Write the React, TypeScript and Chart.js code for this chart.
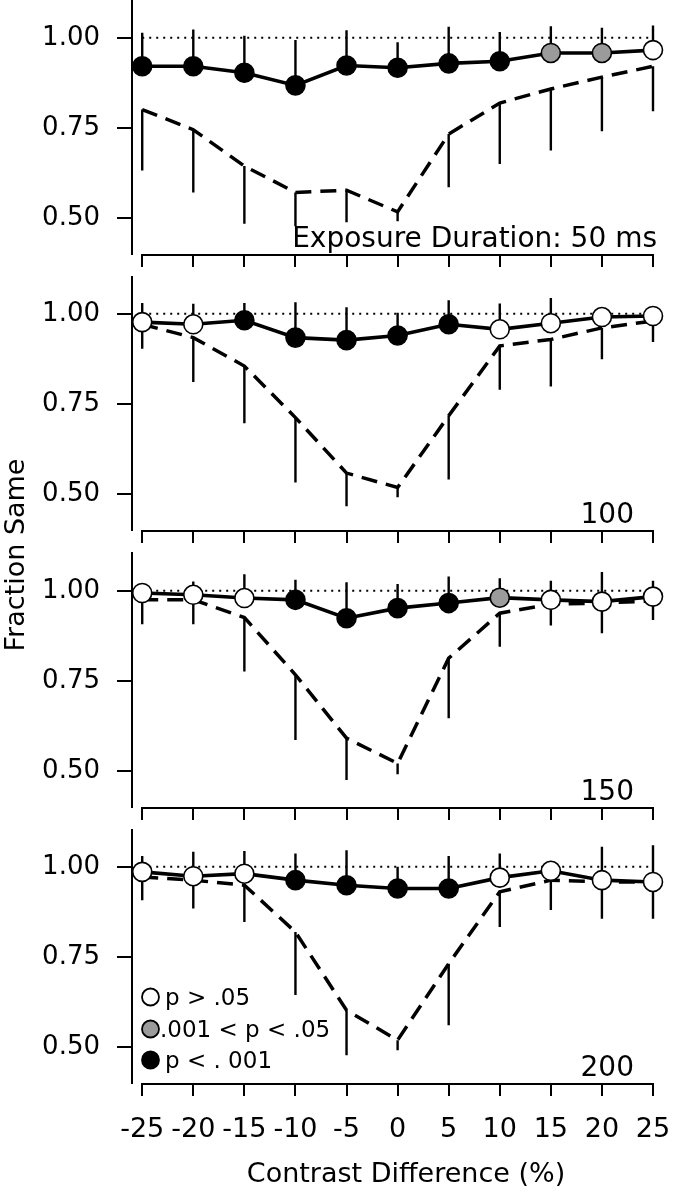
import React, { useEffect, useRef } from "react";
import { Chart, registerables } from "chart.js";

Chart.register(...registerables);

// ---------------- data ----------------
const contrast = [-25, -20, -15, -10, -5, 0, 5, 10, 15, 20, 25];
const xTickValues = [-25, -20, -15, -10, -5, 0, 5, 10, 15, 20, 25];
const yTickValues = [0.5, 0.75, 1.0];
const chanceLevel = 1.0;
const durationLabels = ["Exposure Duration: 50 ms", "100", "150", "200"];
const legendLabels = ["p > .05", ".001 < p < .05", "p < . 001"];
const legendCodes = ["n", "m", "s"];
const xTitle = "Contrast Difference (%)";
const yTitle = "Fraction Same";

// significance codes: n = p > .05, m = .001 < p < .05, s = p < .001
// 50 ms
const sameMean50 = [0.921, 0.921, 0.903, 0.868, 0.923, 0.917, 0.929, 0.935, 0.958, 0.958, 0.966];
const sameErr50 = [0.093, 0.102, 0.103, 0.126, 0.098, 0.071, 0.102, 0.081, 0.074, 0.07, 0.068];
const diffMean50 = [0.801, 0.745, 0.644, 0.571, 0.577, 0.517, 0.733, 0.819, 0.858, 0.891, 0.921];
const diffErr50 = [0.169, 0.174, 0.16, 0.094, 0.089, 0.026, 0.148, 0.169, 0.171, 0.15, 0.125];
const sig50 = ["s", "s", "s", "s", "s", "s", "s", "s", "m", "m", "n"];

// 100 ms
const sameMean100 = [0.977, 0.971, 0.982, 0.934, 0.927, 0.94, 0.971, 0.957, 0.974, 0.991, 0.994];
const sameErr100 = [0.053, 0.057, 0.048, 0.098, 0.091, 0.063, 0.067, 0.072, 0.07, 0.012, 0.015];
const diffMean100 = [0.971, 0.934, 0.855, 0.712, 0.558, 0.518, 0.717, 0.911, 0.929, 0.961, 0.98];
const diffErr100 = [0.068, 0.123, 0.159, 0.18, 0.092, 0.027, 0.177, 0.122, 0.131, 0.087, 0.058];
const sig100 = ["n", "n", "s", "s", "s", "s", "s", "n", "n", "n", "n"];

// 150 ms
const sameMean150 = [0.994, 0.989, 0.98, 0.975, 0.924, 0.952, 0.966, 0.981, 0.975, 0.97, 0.984];
const sameErr150 = [0.027, 0.037, 0.066, 0.056, 0.1, 0.067, 0.074, 0.054, 0.053, 0.082, 0.044];
const diffMean150 = [0.975, 0.975, 0.926, 0.767, 0.591, 0.521, 0.813, 0.938, 0.963, 0.966, 0.972];
const diffErr150 = [0.068, 0.068, 0.15, 0.181, 0.116, 0.03, 0.167, 0.093, 0.059, 0.084, 0.053];
const sig150 = ["n", "n", "n", "s", "s", "s", "s", "m", "n", "n", "n"];

// 200 ms
const sameMean200 = [0.986, 0.974, 0.981, 0.963, 0.949, 0.94, 0.94, 0.97, 0.989, 0.963, 0.958];
const sameErr200 = [0.044, 0.068, 0.063, 0.074, 0.097, 0.06, 0.09, 0.067, 0.021, 0.093, 0.102];
const diffMean200 = [0.972, 0.963, 0.949, 0.819, 0.602, 0.519, 0.731, 0.931, 0.963, 0.958, 0.958];
const diffErr200 = [0.065, 0.079, 0.102, 0.175, 0.125, 0.028, 0.171, 0.098, 0.083, 0.102, 0.102];
const sig200 = ["n", "n", "n", "s", "s", "s", "s", "n", "n", "n", "n"];

type Panel = {
  sameMean: number[];
  sameErr: number[];
  diffMean: number[];
  diffErr: number[];
  sig: string[];
  label: string;
};

const panels: Panel[] = [
  { sameMean: sameMean50, sameErr: sameErr50, diffMean: diffMean50, diffErr: diffErr50, sig: sig50, label: durationLabels[0] },
  { sameMean: sameMean100, sameErr: sameErr100, diffMean: diffMean100, diffErr: diffErr100, sig: sig100, label: durationLabels[1] },
  { sameMean: sameMean150, sameErr: sameErr150, diffMean: diffMean150, diffErr: diffErr150, sig: sig150, label: durationLabels[2] },
  { sameMean: sameMean200, sameErr: sameErr200, diffMean: diffMean200, diffErr: diffErr200, sig: sig200, label: durationLabels[3] },
];

// ---------------- styling / layout ----------------
const FONT = "'DejaVu Sans', 'Liberation Sans', sans-serif";
const fillFor = (s: string) => (s === "n" ? "#ffffff" : s === "m" ? "#9b9b9b" : "#000000");

const CANVAS_W = 674;
const PLOT_H = 254;
const Y_AXIS_W = 132;
const RIGHT_PAD = 21;
const panelTop = [0, 276, 553, 829];
const extraTop = [0, 0, 120, 0];
const axisH = [22, 22, 22, 117];

function PanelChart({ idx }: { idx: number }) {
  const ref = useRef<HTMLCanvasElement | null>(null);

  useEffect(() => {
    const canvas = ref.current;
    if (!canvas) return;
    const p = panels[idx];
    const isLast = idx === panels.length - 1;

    const overlay = {
      id: "overlay" + idx,
      beforeDatasetsDraw(chart: any) {
        const { ctx, chartArea } = chart;
        const x = chart.scales.x;
        const y = chart.scales.y;
        ctx.save();
        ctx.strokeStyle = "#000";
        ctx.lineWidth = 2;
        ctx.lineCap = "butt";
        // detached x axis line spanning the data range
        const yb = chartArea.bottom + 1;
        ctx.beginPath();
        ctx.moveTo(x.getPixelForValue(xTickValues[0]) - 1, yb);
        ctx.lineTo(x.getPixelForValue(xTickValues[xTickValues.length - 1]) + 1, yb);
        ctx.stroke();
        // one-sided error bars
        ctx.lineWidth = 2.4;
        contrast.forEach((c, i) => {
          const px = x.getPixelForValue(c);
          ctx.beginPath();
          ctx.moveTo(px, y.getPixelForValue(p.sameMean[i]));
          ctx.lineTo(px, y.getPixelForValue(p.sameMean[i] + p.sameErr[i]));
          ctx.moveTo(px, y.getPixelForValue(p.diffMean[i]));
          ctx.lineTo(px, y.getPixelForValue(p.diffMean[i] - p.diffErr[i]));
          ctx.stroke();
        });
        ctx.restore();
      },
      afterDatasetsDraw(chart: any) {
        const { ctx, chartArea } = chart;
        ctx.save();
        ctx.fillStyle = "#000";
        ctx.font = `28px ${FONT}`;
        ctx.textAlign = "right";
        ctx.textBaseline = "alphabetic";
        ctx.fillText(p.label, idx === 0 ? 657 : 634, chartArea.bottom - 7);

        if (isLast) {
          const ly = [168, 200, 231];
          legendLabels.forEach((t, i) => {
            const cy = chartArea.top + ly[i];
            ctx.beginPath();
            ctx.arc(150.5, cy, 8.5, 0, Math.PI * 2);
            ctx.fillStyle = fillFor(legendCodes[i]);
            ctx.fill();
            ctx.lineWidth = 1.8;
            ctx.strokeStyle = "#000";
            ctx.stroke();
            ctx.fillStyle = "#000";
            ctx.font = `23px ${FONT}`;
            ctx.textAlign = "left";
            ctx.fillText(t, i === 1 ? 160 : 165, cy + 8);
          });
          // x axis title
          ctx.font = `27px ${FONT}`;
          ctx.textAlign = "center";
          ctx.fillText(xTitle, 406, chartArea.bottom + 99);
        }

        if (idx === 2) {
          ctx.save();
          ctx.translate(23.5, chartArea.top + 2);
          ctx.rotate(-Math.PI / 2);
          ctx.font = `27px ${FONT}`;
          ctx.textAlign = "center";
          ctx.textBaseline = "alphabetic";
          ctx.fillStyle = "#000";
          ctx.fillText(yTitle, 0, 0);
          ctx.restore();
        }
        ctx.restore();
      },
    };

    const chart = new Chart(canvas, {
      type: "line",
      data: {
        datasets: [
          {
            label: "chance",
            data: [
              { x: xTickValues[0], y: chanceLevel },
              { x: xTickValues[xTickValues.length - 1], y: chanceLevel },
            ],
            borderColor: "#000",
            borderWidth: 2,
            borderDash: [2, 5],
            pointRadius: 0,
            clip: false,
            order: 3,
          },
          {
            label: "different",
            data: contrast.map((c, i) => ({ x: c, y: p.diffMean[i] })),
            borderColor: "#000",
            borderWidth: 3.5,
            borderDash: [16, 9],
            pointRadius: 0,
            clip: false,
            order: 2,
          },
          {
            label: "same",
            data: contrast.map((c, i) => ({ x: c, y: p.sameMean[i] })),
            borderColor: "#000",
            borderWidth: 3.6,
            pointRadius: 9.5,
            pointBorderWidth: 1.6,
            pointBorderColor: "#000",
            pointBackgroundColor: p.sig.map(fillFor),
            clip: false,
            order: 1,
          },
        ],
      },
      options: {
        responsive: false,
        animation: false,
        devicePixelRatio: 1,
        events: [],
        layout: {
          autoPadding: false,
          padding: { top: extraTop[idx], right: RIGHT_PAD, left: 0, bottom: 0 },
        },
        plugins: {
          legend: { display: false },
          tooltip: { enabled: false },
          title: { display: false },
        },
        scales: {
          x: {
            type: "linear",
            min: -26,
            max: 25,
            afterBuildTicks: (s: any) => {
              s.ticks = xTickValues.map((v) => ({ value: v }));
            },
            afterFit: (s: any) => {
              s.height = axisH[idx];
              s.paddingLeft = 0;
              s.paddingRight = 0;
            },
            border: { display: false },
            grid: {
              display: true,
              drawOnChartArea: false,
              drawTicks: true,
              tickLength: 13,
              color: "#000",
              lineWidth: 2,
            },
            ticks: {
              display: isLast,
              color: "#000",
              font: { family: FONT, size: 27 },
              padding: 18,
              maxRotation: 0,
              autoSkip: false,
              callback: (v: any) => String(v),
            },
            title: { display: false },
          },
          y: {
            type: "linear",
            min: 0.4,
            max: 1.105,
            afterBuildTicks: (s: any) => {
              s.ticks = yTickValues.map((v) => ({ value: v }));
            },
            afterFit: (s: any) => {
              s.width = Y_AXIS_W;
              s.paddingTop = 0;
              s.paddingBottom = 0;
            },
            border: { display: true, color: "#000", width: 2 },
            grid: {
              display: true,
              drawOnChartArea: false,
              drawTicks: true,
              tickLength: 15,
              color: "#000",
              lineWidth: 2,
            },
            ticks: {
              color: "#000",
              font: { family: FONT, size: 26 },
              padding: 17,
              callback: (v: any) => Number(v).toFixed(2),
            },
          },
        },
      },
      plugins: [overlay],
    } as any);

    return () => chart.destroy();
  }, [idx]);

  const h = extraTop[idx] + PLOT_H + axisH[idx];
  return (
    <canvas
      ref={ref}
      width={CANVAS_W}
      height={h}
      style={{
        position: "absolute",
        left: 0,
        top: panelTop[idx] - extraTop[idx],
        width: CANVAS_W,
        height: h,
        display: "block",
      }}
    />
  );
}

export default function App() {
  return (
    <div style={{ position: "absolute", left: 0, top: 0, width: 674, height: 1200, background: "#fff" }}>
      {panels.map((_, i) => (
        <PanelChart key={i} idx={i} />
      ))}
    </div>
  );
}
